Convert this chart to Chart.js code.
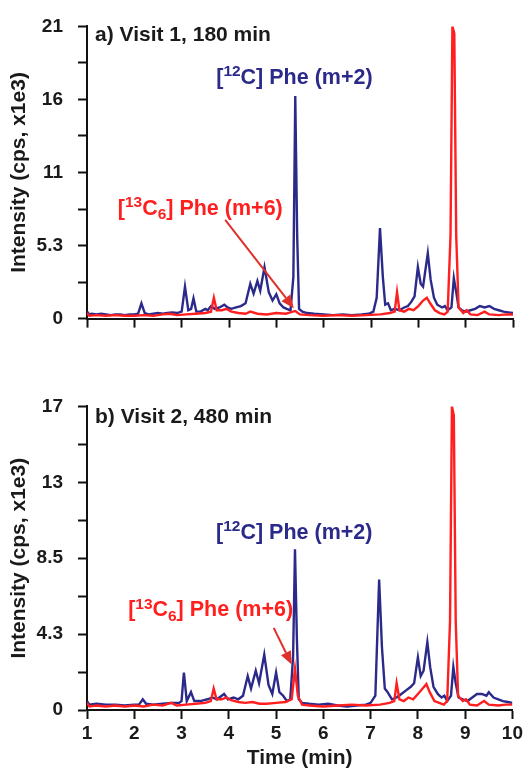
<!DOCTYPE html>
<html><head><meta charset="utf-8">
<script src="https://cdn.jsdelivr.net/npm/chart.js@4/dist/chart.umd.min.js"></script>
<style>
html,body{margin:0;padding:0;background:#fff;}
#wrap{position:relative;width:526px;height:771px;overflow:hidden;}
canvas{position:absolute;left:0;}
#cA{top:0;}
#cB{top:380px;}
</style></head><body>
<div id="wrap"><canvas id="cA" width="526" height="345"></canvas><canvas id="cB" width="526" height="391"></canvas></div>
<script>
// ---------- DATA ----------
const xTicks = [1,2,3,4,5,6,7,8,9,10];
const yTicksA = [0,2.625,5.25,7.875,10.5,13.125,15.75,18.375,21];
const yLabelsA = ['0','','5.3','','11','','16','','21'];
const yTicksB = [0,2.125,4.25,6.375,8.5,10.625,12.75,14.875,17];
const yLabelsB = ['0','','4.3','','8.5','','13','','17'];

// Visit 1 (a) - [12C] Phe (m+2)
const tBlueA = [1.00,1.05,1.10,1.20,1.30,1.40,1.50,1.60,1.70,1.80,1.90,2.00,2.08,2.15,2.22,2.30,2.40,2.50,2.60,2.70,2.80,2.90,3.00,3.07,3.14,3.20,3.25,3.31,3.40,3.50,3.55,3.62,3.70,3.80,3.90,3.97,4.05,4.15,4.25,4.35,4.45,4.52,4.60,4.66,4.75,4.84,4.92,5.00,5.07,5.15,5.22,5.30,5.36,5.40,5.44,5.48,5.55,5.65,5.80,6.00,6.20,6.40,6.60,6.80,6.95,7.05,7.12,7.19,7.25,7.30,7.36,7.42,7.50,7.60,7.70,7.78,7.85,7.92,7.99,8.05,8.10,8.20,8.26,8.33,8.40,8.50,8.56,8.62,8.70,8.75,8.80,8.85,8.92,9.00,9.10,9.20,9.30,9.40,9.50,9.60,9.70,9.80,9.90,10.00];
const vBlueA = [0.5,0.3,0.35,0.3,0.35,0.3,0.25,0.3,0.3,0.25,0.3,0.3,0.35,1.1,0.4,0.3,0.35,0.4,0.35,0.4,0.45,0.4,0.5,2.3,0.6,0.7,1.45,0.5,0.5,0.7,0.6,0.9,0.7,0.8,1.0,0.8,0.7,0.8,0.9,1.1,2.5,1.8,2.7,2.0,3.7,1.9,1.3,1.75,1.1,0.8,0.7,0.6,3.0,16.0,6.0,0.7,0.5,0.4,0.35,0.3,0.25,0.3,0.25,0.3,0.35,0.5,1.5,6.5,3.0,1.0,1.1,0.6,0.7,0.6,0.8,0.9,1.2,1.6,3.7,2.5,2.3,4.7,2.8,1.5,1.0,0.8,0.9,0.6,0.8,2.9,1.9,0.8,0.6,0.5,0.6,0.7,0.9,0.8,0.9,0.7,0.6,0.5,0.45,0.4];
// Visit 1 (a) - [13C6] Phe (m+6)
const tRedA = [1.00,1.05,1.20,1.40,1.60,1.80,2.00,2.20,2.40,2.60,2.75,2.90,3.10,3.30,3.50,3.62,3.68,3.74,3.85,3.95,4.05,4.20,4.35,4.45,4.60,4.80,5.00,5.20,5.40,5.50,5.70,6.00,6.30,6.60,6.90,7.20,7.40,7.50,7.55,7.60,7.70,7.80,7.90,8.00,8.10,8.18,8.25,8.35,8.45,8.55,8.62,8.68,8.72,8.76,8.80,8.85,8.95,9.02,9.10,9.25,9.40,9.50,9.70,9.85,10.00];
const vRedA = [0.4,0.2,0.25,0.2,0.25,0.2,0.2,0.25,0.2,0.3,0.35,0.25,0.3,0.35,0.4,0.5,1.5,0.6,0.6,0.7,0.5,0.4,0.35,0.5,0.35,0.3,0.4,0.35,0.55,0.3,0.25,0.2,0.25,0.2,0.25,0.3,0.4,0.5,1.9,0.6,0.5,0.7,0.6,0.9,1.3,1.5,1.1,0.6,0.4,0.3,0.5,6.0,21.0,20.5,6.0,0.8,0.4,0.6,0.3,0.25,0.5,0.3,0.25,0.3,0.3];

// Visit 2 (b) - [12C] Phe (m+2)
const tBlueB = [1.00,1.05,1.20,1.40,1.60,1.80,2.00,2.10,2.18,2.25,2.40,2.60,2.80,2.95,3.00,3.05,3.11,3.20,3.27,3.40,3.55,3.65,3.75,3.90,3.98,4.10,4.20,4.30,4.40,4.47,4.57,4.64,4.75,4.84,4.92,5.00,5.07,5.15,5.23,5.30,5.36,5.40,5.44,5.48,5.55,5.70,5.90,6.10,6.30,6.50,6.70,6.90,7.00,7.10,7.18,7.24,7.30,7.36,7.45,7.55,7.65,7.75,7.85,7.92,8.00,8.06,8.12,8.20,8.26,8.33,8.42,8.50,8.56,8.62,8.70,8.75,8.80,8.86,8.95,9.05,9.15,9.25,9.35,9.45,9.50,9.60,9.70,9.80,9.90,10.00];
const vBlueB = [0.5,0.3,0.35,0.3,0.3,0.25,0.3,0.3,0.6,0.35,0.3,0.35,0.4,0.4,0.5,2.1,0.5,1.0,0.5,0.5,0.6,0.7,0.6,0.9,0.6,0.7,0.6,0.8,1.9,1.2,2.2,1.5,3.1,1.4,0.9,2.1,1.0,0.8,0.5,0.6,3.0,9.0,4.0,0.6,0.4,0.35,0.3,0.35,0.25,0.2,0.25,0.3,0.4,0.8,7.3,3.5,1.2,1.0,0.6,0.7,0.9,1.1,1.3,1.5,2.95,1.9,2.2,3.8,2.4,1.3,0.9,0.7,0.8,0.5,0.8,2.4,1.5,0.7,0.6,0.5,0.7,0.9,0.9,0.8,1.0,0.7,0.6,0.5,0.45,0.4];
// Visit 2 (b) - [13C6] Phe (m+6)
const tRedB = [1.00,1.05,1.20,1.40,1.60,1.80,2.00,2.20,2.40,2.60,2.78,2.90,3.10,3.30,3.50,3.62,3.68,3.74,3.85,3.95,4.05,4.20,4.35,4.50,4.65,4.80,5.00,5.20,5.33,5.40,5.46,5.55,5.70,6.00,6.30,6.60,6.90,7.20,7.40,7.50,7.55,7.61,7.70,7.80,7.90,8.00,8.10,8.18,8.25,8.35,8.45,8.55,8.62,8.68,8.72,8.76,8.80,8.85,8.95,9.02,9.10,9.25,9.40,9.50,9.70,9.85,10.00];
const vRedB = [0.4,0.2,0.25,0.2,0.25,0.2,0.25,0.2,0.3,0.25,0.4,0.25,0.3,0.35,0.4,0.5,1.2,0.6,0.6,0.7,0.55,0.45,0.4,0.45,0.35,0.35,0.4,0.45,0.6,2.3,0.8,0.3,0.25,0.2,0.25,0.3,0.25,0.3,0.4,0.5,1.5,0.6,0.5,0.7,0.6,0.9,1.2,1.45,1.0,0.5,0.4,0.3,0.5,5.0,17.0,16.5,5.0,0.8,0.5,0.6,0.3,0.25,0.5,0.3,0.25,0.3,0.3];

const titleA = 'a) Visit 1, 180 min';
const titleB = 'b) Visit 2, 480 min';
const label12C = [{s:'['},{s:'12',k:'sup'},{s:'C] Phe (m+2)'}];
const label13C = [{s:'['},{s:'13',k:'sup'},{s:'C'},{s:'6',k:'sub'},{s:'] Phe (m+6)'}];
const yTitle = 'Intensity (cps, x1e3)';
const xTitle = 'Time (min)';

// ---------- STYLE ----------
const NAVY = '#2b2a8a';
const RED = '#ff1f1f';
const ARROW = '#e0302a';
const INK = '#1a1a1a';
const FONT = "'Liberation Sans', Arial, Helvetica, sans-serif";

function pts(t, v){ return t.map((x,i)=>({x:x, y:v[i]})); }

const richPlugin = {
  id: 'richText',
  afterDatasetsDraw(chart, args, opts) {
    const ctx = chart.ctx, xs = chart.scales.x, ys = chart.scales.y;
    ctx.save();
    (opts.items || []).forEach(it => {
      if (it.type === 'arrow') {
        const x1 = xs.getPixelForValue(it.from[0]), y1 = ys.getPixelForValue(it.from[1]);
        const x2 = xs.getPixelForValue(it.to[0]), y2 = ys.getPixelForValue(it.to[1]);
        const ang = Math.atan2(y2-y1, x2-x1), L = 13, W = 5.5;
        const bx = x2 - L*Math.cos(ang), by = y2 - L*Math.sin(ang);
        ctx.strokeStyle = it.color; ctx.lineWidth = 2;
        ctx.beginPath(); ctx.moveTo(x1,y1); ctx.lineTo(bx,by); ctx.stroke();
        ctx.fillStyle = it.color;
        ctx.beginPath(); ctx.moveTo(x2,y2);
        ctx.lineTo(bx + W*Math.sin(ang), by - W*Math.cos(ang));
        ctx.lineTo(bx - W*Math.sin(ang), by + W*Math.cos(ang));
        ctx.closePath(); ctx.fill();
      } else {
        let x = xs.getPixelForValue(it.at[0]);
        const y = ys.getPixelForValue(it.at[1]);
        const size = it.size;
        ctx.fillStyle = it.color; ctx.textBaseline = 'middle'; ctx.textAlign = 'left';
        it.parts.forEach(p => {
          let fs = size, dy = 0;
          if (p.k === 'sup') { fs = size*0.72; dy = -size*0.28; }
          if (p.k === 'sub') { fs = size*0.72; dy = size*0.3; }
          ctx.font = 'bold ' + fs + 'px ' + FONT;
          ctx.fillText(p.s, x, y + dy);
          x += ctx.measureText(p.s).width;
        });
      }
    });
    ctx.restore();
  }
};

function makeChart(id, cfg) {
  return new Chart(document.getElementById(id), {
    type: 'line',
    data: { datasets: [
      { label: '[13C6] Phe (m+6)', data: pts(cfg.tRed, cfg.vRed), borderColor: RED, borderWidth: 2.4, pointRadius: 0, tension: 0 },
      { label: '[12C] Phe (m+2)', data: pts(cfg.tBlue, cfg.vBlue), borderColor: NAVY, borderWidth: 2.4, pointRadius: 0, tension: 0 }
    ]},
    options: {
      responsive: false, animation: false, devicePixelRatio: 1,
      layout: { padding: { top: cfg.padTop, right: 13, left: 0, bottom: 0 } },
      plugins: { legend: { display: false }, tooltip: { enabled: false }, richText: { items: cfg.items } },
      scales: {
        x: {
          type: 'linear', min: 1, max: 10,
          afterBuildTicks: s => { s.ticks = xTicks.map(v => ({value: v})); },
          afterFit: s => { s.height = cfg.xHeight; },
          ticks: { autoSkip: false, maxRotation: 0, padding: 3, color: INK,
                   font: { family: FONT, size: 19, weight: 'bold' },
                   callback: v => cfg.showX ? String(v) : '' },
          grid: { display: true, drawOnChartArea: false, drawTicks: true, tickLength: 9, tickWidth: 2, tickColor: '#111' },
          border: { display: true, color: '#111', width: 2 },
          title: { display: cfg.showX, text: xTitle, color: INK, padding: { top: 0, bottom: 0 },
                   font: { family: FONT, size: 21, weight: 'bold' } }
        },
        y: {
          type: 'linear', min: 0, max: cfg.yMax,
          afterBuildTicks: s => { s.ticks = cfg.yTicks.map(v => ({value: v})); },
          afterFit: s => { s.width = 87; },
          ticks: { autoSkip: false, padding: 15, color: INK,
                   font: { family: FONT, size: 19, weight: 'bold' },
                   callback: (v, i) => cfg.yLabels[i] },
          grid: { display: true, drawOnChartArea: false, drawTicks: true, tickLength: 9, tickWidth: 2, tickColor: '#111' },
          border: { display: true, color: '#111', width: 2 },
          title: { display: true, text: yTitle, color: INK, padding: { top: 7, bottom: 0 },
                   font: { family: FONT, size: 21, weight: 'bold' } }
        }
      }
    },
    plugins: [richPlugin]
  });
}

makeChart('cA', {
  tBlue: tBlueA, vBlue: vBlueA, tRed: tRedA, vRed: vRedA,
  yMax: 21, yTicks: yTicksA, yLabels: yLabelsA, showX: false, padTop: 22, xHeight: 22,
  items: [
    { parts: [{s: titleA}], at: [1.17, 20.4], size: 21, color: INK },
    { parts: label12C, at: [3.73, 17.3], size: 21.5, color: NAVY },
    { parts: label13C, at: [1.65, 7.9], size: 21.5, color: RED },
    { type: 'arrow', from: [3.92, 7.1], to: [5.37, 0.75], color: ARROW }
  ]
});
makeChart('cB', {
  tBlue: tBlueB, vBlue: vBlueB, tRed: tRedB, vRed: vRedB,
  yMax: 17, yTicks: yTicksB, yLabels: yLabelsB, showX: true, padTop: 25, xHeight: 61,
  items: [
    { parts: [{s: titleB}], at: [1.17, 16.4], size: 21, color: INK },
    { parts: label12C, at: [3.73, 9.9], size: 21.5, color: NAVY },
    { parts: label13C, at: [1.87, 5.57], size: 21.5, color: RED },
    { type: 'arrow', from: [4.95, 4.6], to: [5.33, 2.55], color: ARROW }
  ]
});
</script>
</body></html>
